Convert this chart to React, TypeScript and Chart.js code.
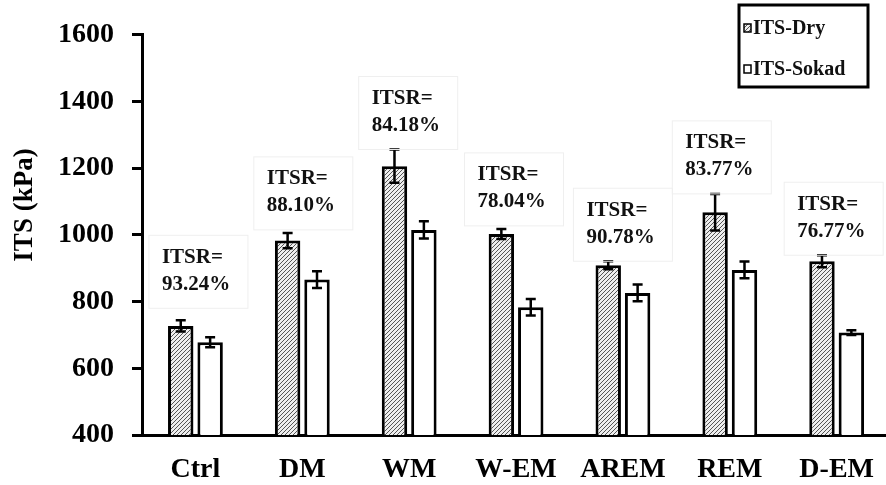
import React, { useEffect, useRef } from "react";
import { Chart, registerables } from "chart.js";

Chart.register(...registerables);

const categories = ["Ctrl", "DM", "WM", "W-EM", "AREM", "REM", "D-EM"];
const dryValues = [727, 983, 1206, 1003, 909, 1068, 921];
const dryErrors = [17, 23, 50, 15, 12, 55, 18];
const sokadValues = [678, 866, 1015, 783, 826, 895, 707];
const sokadErrors = [15, 25, 26, 25, 25, 25, 7];
const itsrLabels = ["93.24%", "88.10%", "84.18%", "78.04%", "90.78%", "83.77%", "76.77%"];
const seriesNames = ["ITS-Dry", "ITS-Sokad"];
const yTitle = "ITS (kPa)";
const yTicks = { min: 400, max: 1600, step: 200 };

const FONT = '"Liberation Serif", "Times New Roman", serif';

function makeHatch(): CanvasPattern | string {
  const c = document.createElement("canvas");
  c.width = 4;
  c.height = 4;
  const g = c.getContext("2d");
  if (!g) return "#bbb";
  g.fillStyle = "#eeeeee";
  g.fillRect(0, 0, 4, 4);
  g.strokeStyle = "#555";
  g.lineWidth = 1;
  g.beginPath();
  g.moveTo(0, 4);
  g.lineTo(4, 0);
  g.moveTo(-1, 1);
  g.lineTo(1, -1);
  g.moveTo(3, 5);
  g.lineTo(5, 3);
  g.stroke();
  const p = g.createPattern(c, "repeat");
  return p || "#bbb";
}

export default function App() {
  const ref = useRef<HTMLCanvasElement | null>(null);

  useEffect(() => {
    if (!ref.current) return;
    const hatch = makeHatch();
    const errs = [dryErrors, sokadErrors];
    const labelDx = [-33.5, -35.5, -37.5, -38.5, -36.5, -44.5, -39.5];
    const labelGap = [36, 27, 24, 27, 24, 24, 24];

    const overlay = {
      id: "overlay",
      afterDatasetsDraw(chart: any) {
        const ctx = chart.ctx;
        const y = chart.scales.y;
        const x = chart.scales.x;
        ctx.save();
        ctx.strokeStyle = "#000";
        ctx.lineWidth = 2.5;
        chart.data.datasets.forEach((ds: any, di: number) => {
          const meta = chart.getDatasetMeta(di);
          meta.data.forEach((bar: any, i: number) => {
            const v = ds.data[i];
            const e = errs[di][i];
            const yt = y.getPixelForValue(v + e);
            const yb = y.getPixelForValue(v - e);
            ctx.beginPath();
            ctx.moveTo(bar.x, yt);
            ctx.lineTo(bar.x, yb);
            ctx.moveTo(bar.x - 5, yt);
            ctx.lineTo(bar.x + 5, yt);
            ctx.moveTo(bar.x - 5, yb);
            ctx.lineTo(bar.x + 5, yb);
            ctx.stroke();
          });
        });
        ctx.font = `bold 21px ${FONT}`;
        ctx.textBaseline = "middle";
        ctx.textAlign = "left";
        itsrLabels.forEach((lab, i) => {
          const left = x.getPixelForValue(i) + labelDx[i];
          const errTop = y.getPixelForValue(dryValues[i] + dryErrors[i]);
          const l2 = errTop - labelGap[i];
          const l1 = l2 - 27;
          ctx.strokeStyle = "#efefef";
          ctx.lineWidth = 1;
          ctx.strokeRect(left - 13, l1 - 22, 99, l2 - l1 + 46);
          ctx.fillStyle = "#111";
          ctx.fillText("ITSR=", left, l1);
          ctx.fillText(lab, left, l2);
        });
        ctx.restore();
      },
      afterDraw(chart: any) {
        const ctx = chart.ctx;
        ctx.save();
        // y axis title
        ctx.translate(25, 205);
        ctx.rotate(-Math.PI / 2);
        ctx.font = `bold 27px ${FONT}`;
        ctx.textAlign = "center";
        ctx.textBaseline = "middle";
        ctx.fillStyle = "#000";
        ctx.fillText(yTitle, 0, 0);
        ctx.setTransform(1, 0, 0, 1, 0, 0);
        // legend
        ctx.strokeStyle = "#000";
        ctx.lineWidth = 3;
        ctx.strokeRect(739, 5, 129, 82);
        ctx.font = `bold 20px ${FONT}`;
        ctx.textBaseline = "middle";
        ctx.textAlign = "left";
        const rows = [28, 69];
        seriesNames.forEach((name, i) => {
          const cy = rows[i];
          ctx.fillStyle = i === 0 ? hatch : "#fff";
          ctx.fillRect(744, cy - 4, 7, 8);
          ctx.lineWidth = 1.5;
          ctx.strokeStyle = "#000";
          ctx.strokeRect(744, cy - 4, 7, 8);
          ctx.fillStyle = "#111";
          ctx.fillText(name, 753, cy + 1);
        });
        ctx.restore();
      },
    };

    const chart = new Chart(ref.current, {
      type: "bar",
      data: {
        labels: categories,
        datasets: [
          {
            label: seriesNames[0],
            data: dryValues,
            backgroundColor: hatch as any,
            borderColor: "#000",
            borderWidth: 3,
            borderSkipped: false,
            categoryPercentage: 0.55,
            barPercentage: 0.865,
          },
          {
            label: seriesNames[1],
            data: sokadValues,
            backgroundColor: "#fff",
            borderColor: "#000",
            borderWidth: 3,
            borderSkipped: false,
            categoryPercentage: 0.55,
            barPercentage: 0.865,
          },
        ],
      },
      options: {
        responsive: false,
        animation: false,
        layout: { padding: { top: 32, right: 0, bottom: 0, left: 0 } },
        plugins: {
          legend: { display: false },
          tooltip: { enabled: false },
        },
        scales: {
          x: {
            grid: { display: false, drawTicks: false },
            border: { display: true, color: "#000", width: 3 },
            ticks: {
              color: "#000",
              font: { family: FONT, size: 28, weight: "bold" },
              padding: 18,
              maxRotation: 0,
            },
            afterFit(scale: any) {
              scale.height = 50;
            },
          },
          y: {
            min: yTicks.min,
            max: yTicks.max,
            grid: {
              display: true,
              drawOnChartArea: false,
              drawTicks: true,
              tickLength: 10,
              color: "#000",
              lineWidth: 3,
            },
            border: { display: true, color: "#000", width: 3 },
            ticks: {
              stepSize: yTicks.step,
              color: "#000",
              font: { family: FONT, size: 28, weight: "bold" },
              padding: 18,
              callback: (v: any) => String(v),
            },
            afterFit(scale: any) {
              scale.width = 142;
            },
          },
        },
      },
      plugins: [overlay],
    });
    return () => chart.destroy();
  }, []);

  return (
    <div
      style={{
        position: "fixed",
        left: 0,
        top: 0,
        width: 886,
        height: 485,
        overflow: "hidden",
        background: "#fff",
      }}
    >
      <canvas ref={ref} width={892} height={485} style={{ width: 892, height: 485, display: "block" }} />
    </div>
  );
}
